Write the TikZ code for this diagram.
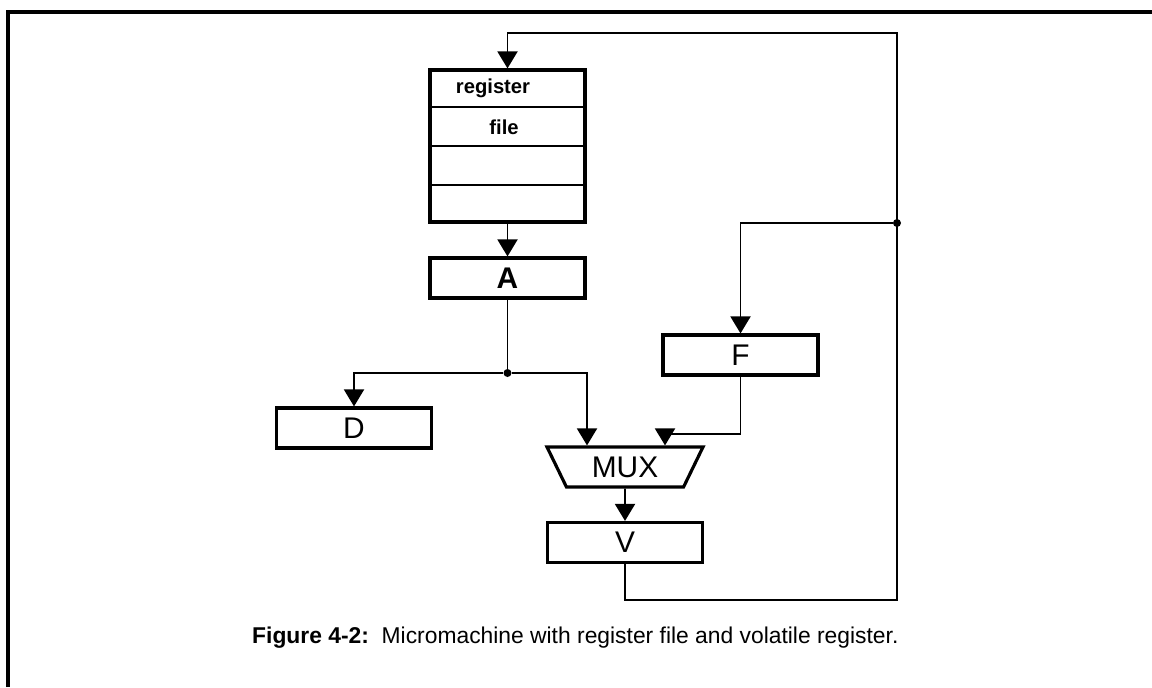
\documentclass[tikz,border=0pt]{standalone}
\usepackage{fontspec}
\setmainfont{Liberation Sans}
\usetikzlibrary{arrows.meta,calc,positioning,shapes.geometric}

\begin{document}
\begin{tikzpicture}[
      >={Triangle[length=3.4mm,width=4mm]},
      wire/.style={line width=1.1pt},
      reg/.style={draw, line width=1.8pt, minimum width=3.1cm, minimum height=8mm,
                  inner sep=0pt, font=\fontsize{17}{19}\selectfont},
      muxbox/.style={reg, trapezium, shape border rotate=180,
                  trapezium left angle=47, trapezium right angle=47,
                  trapezium stretches body, minimum width=3.12cm},
      rowlabel/.style={font=\bfseries\fontsize{11.5}{13}\selectfont},
      dot/.style={circle, fill=black, inner sep=0pt, minimum size=1.6mm}
    ]

    \useasboundingbox (0,0) rectangle (23.04,-13.74);

    % -------- FRAME --------
    \draw[line width=2.2pt] (0.16,-13.74) -- (0.16,-0.24) -- (23.04,-0.24);

    % -------- REGISTER FILE --------
    \node[reg, minimum height=3.04cm] (rf) at (10.15,-2.92) {};
    \foreach \i in {1,2,3}
      \draw[wire] ($(rf.north west)!\i/4!(rf.south west)$) -- ($(rf.north east)!\i/4!(rf.south east)$);
    \node[rowlabel] (rfa) at (9.86,-1.76) {register};
    \node[rowlabel] (rfb) at (10.08,-2.54) {file};

    % -------- REGISTERS --------
    \node[reg, font=\bfseries\fontsize{17}{19}\selectfont] (a) at (10.15,-5.56) {A};
    \node[reg] (d) at (7.08,-8.56) {D};
    \node[reg] (f) at (14.81,-7.10) {F};
    \node[muxbox] (mux) at (12.5,-9.34) {MUX};
    \node[reg] (v) at (12.5,-10.85) {V};

    % точки ветвления
    \node[dot] (ja) at (10.15,-7.46) {};
    \node[dot] (jr) at (17.94,-4.46) {};
    \coordinate (loopB) at (17.94,-12.0);
    \coordinate (loopT) at (10.15,-0.66);
    \coordinate (muxL) at ($(mux.north)+(-0.76,0)$);
    \coordinate (muxR) at ($(mux.north)+(0.8,0)$);

    % -------- CONNECTORS --------
    \draw[wire, ->] (v.south) |- (loopB) |- (loopT) -- (rf.north);
    \draw[wire, ->] (jr) -| (f.north);
    \draw[wire, ->] (rf.south) -- (a.north);
    \draw[wire] (a.south) -- (ja);
    \draw[wire, ->] (ja) -| (d.north);
    \draw[wire, ->] (ja) -| (muxL);
    \draw[wire, ->] (f.south) -- ++(0,-1.14) -| (muxR);
    \draw[wire, ->] (mux.south) -- (v.north);

    \node[anchor=west, font=\fontsize{13}{15}\selectfont] (cap) at (4.92,-12.76)
      {\textbf{Figure 4-2:}\ \ Micromachine with register file and volatile register.};

\end{tikzpicture}
\end{document}
